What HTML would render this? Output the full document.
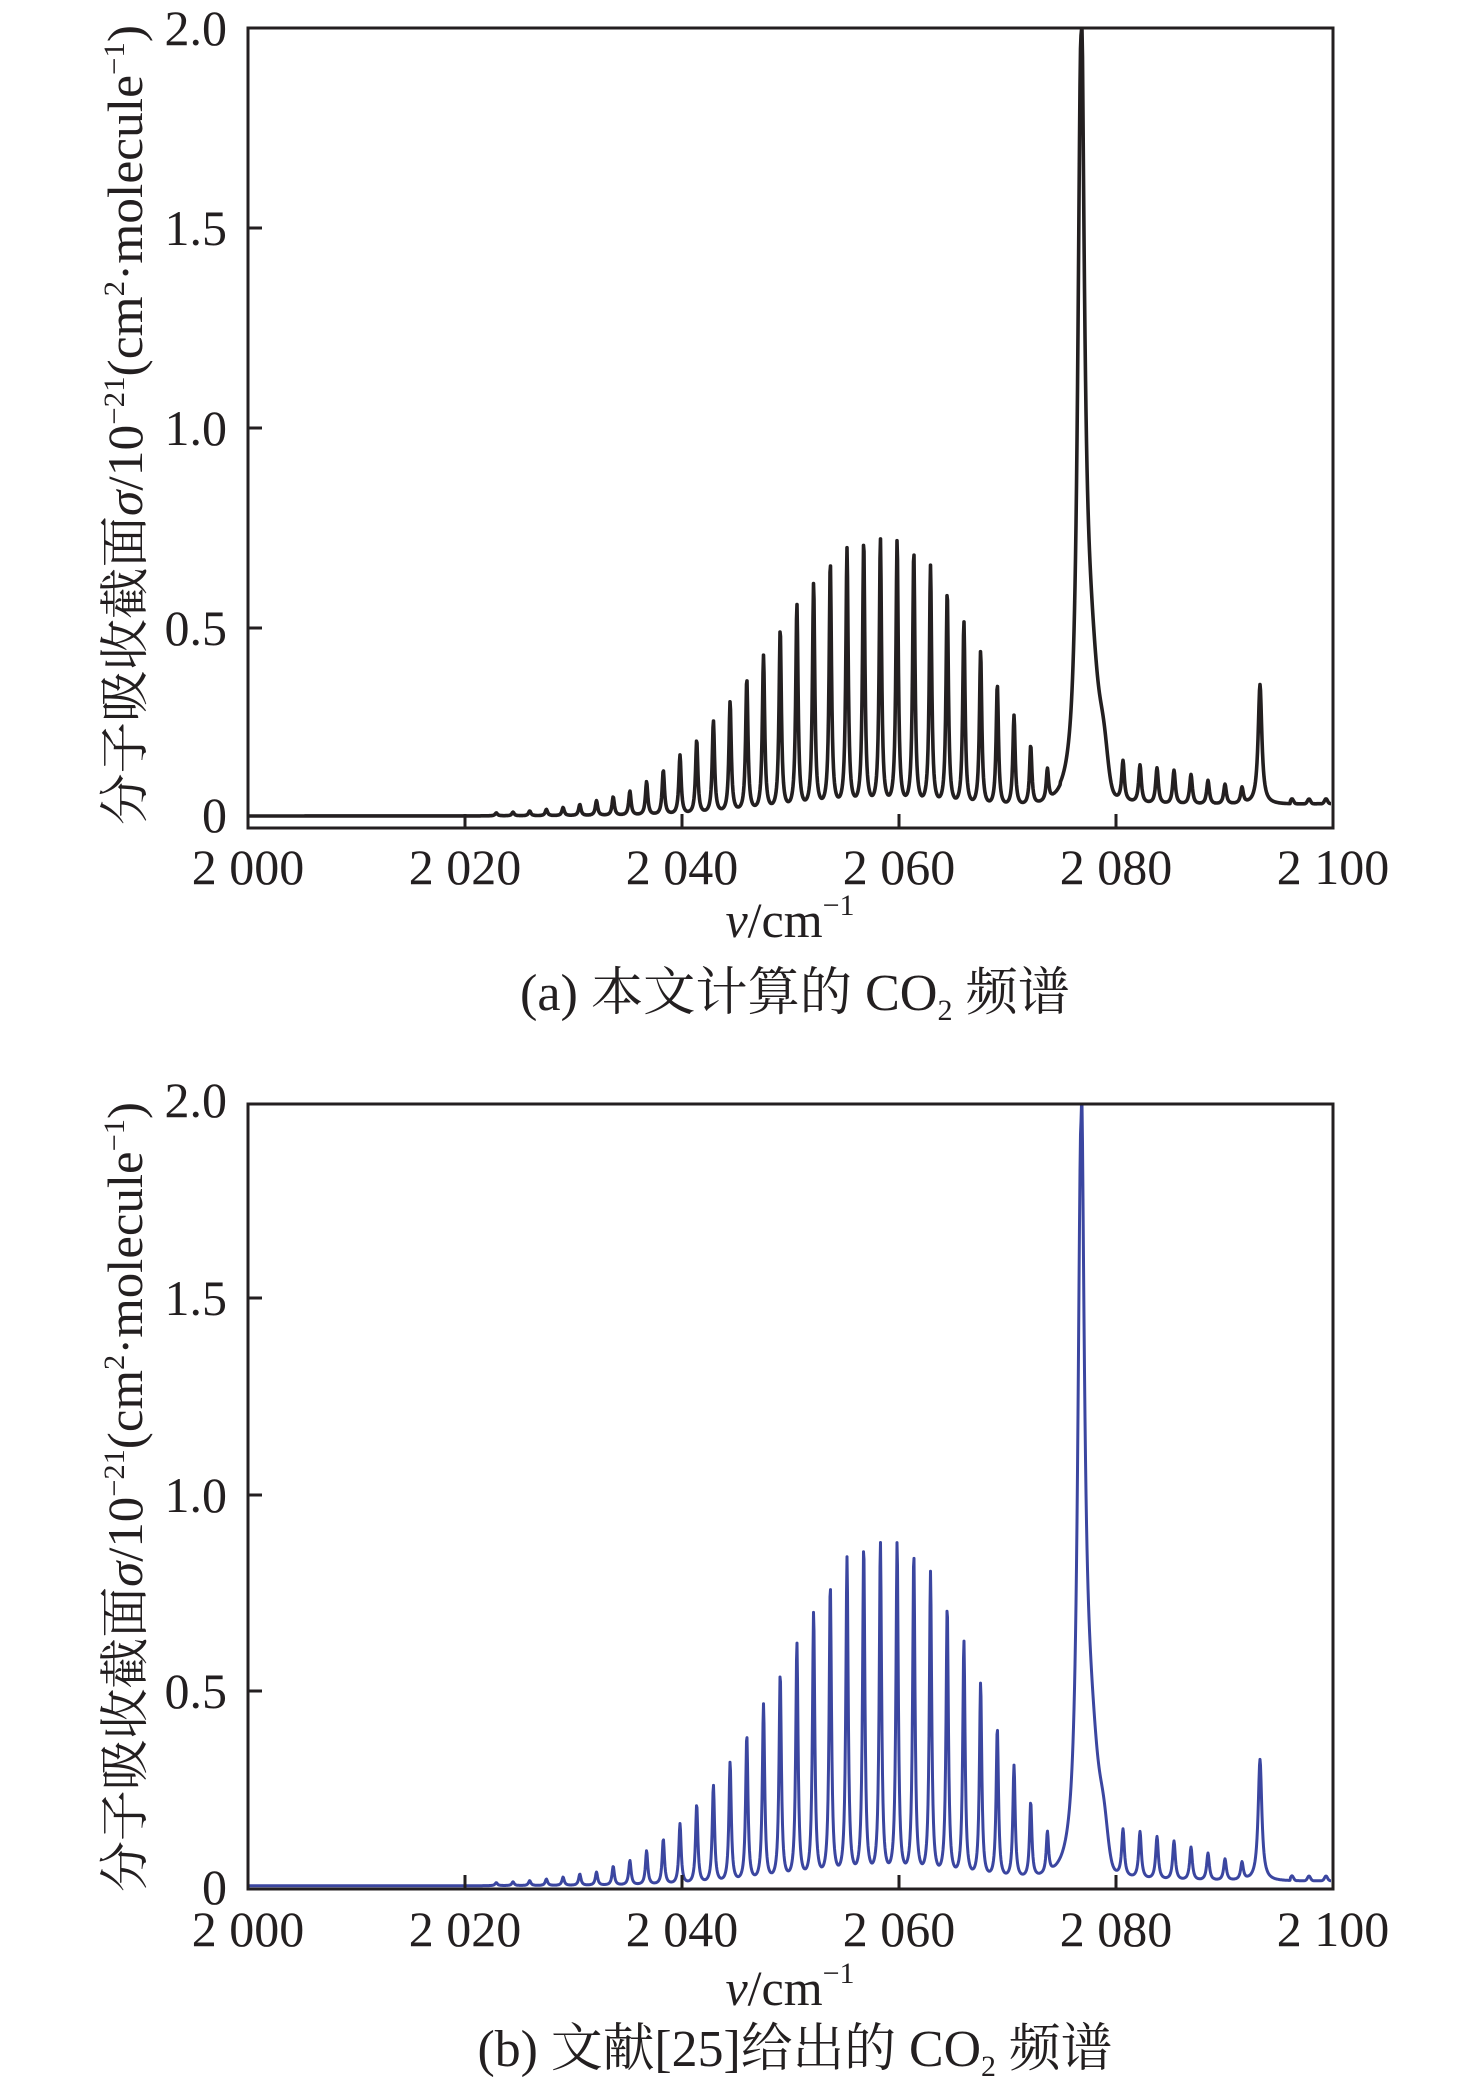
<!DOCTYPE html>
<html><head><meta charset="utf-8">
<style>
html,body{margin:0;padding:0;background:#fff;}
svg{display:block;}
text{font-family:"Liberation Serif","Noto Serif CJK SC","Noto Sans CJK SC",serif;fill:#231f20;}
</style></head>
<body>
<svg id="s" width="1476" height="2098" viewBox="0 0 1476 2098" xmlns="http://www.w3.org/2000/svg">
<g id="pa"></g><g id="pb"></g>
<rect x="248" y="28" width="1085" height="800" fill="none" stroke="#231f20" stroke-width="3"/>
<g stroke="#231f20" stroke-width="3">
<line x1="248" y1="628" x2="262" y2="628"/><line x1="248" y1="428" x2="262" y2="428"/><line x1="248" y1="228" x2="262" y2="228"/>
<line x1="465" y1="828" x2="465" y2="814"/><line x1="682" y1="828" x2="682" y2="814"/><line x1="899" y1="828" x2="899" y2="814"/><line x1="1116" y1="828" x2="1116" y2="814"/>
</g>
<g font-size="50" text-anchor="end">
<text x="227" y="45">2.0</text><text x="227" y="245">1.5</text><text x="227" y="445">1.0</text><text x="227" y="645">0.5</text><text x="227" y="832">0</text>
</g>
<g font-size="50" text-anchor="middle">
<text x="248" y="884">2 000</text><text x="465" y="884">2 020</text><text x="682" y="884">2 040</text><text x="899" y="884">2 060</text><text x="1116" y="884">2 080</text><text x="1333" y="884">2 100</text>
</g>
<text x="790" y="937" font-size="50" text-anchor="middle"><tspan font-style="italic">v</tspan>/cm<tspan font-size="30" dy="-22">−1</tspan></text>
<text x="795" y="1010" font-size="52" text-anchor="middle" textLength="550" lengthAdjust="spacingAndGlyphs">(a) 本文计算的 CO<tspan font-size="30" dy="10">2</tspan><tspan dy="-10"> 频谱</tspan></text>
<text transform="translate(142,425) rotate(-90)" font-size="50" text-anchor="middle" textLength="800" lengthAdjust="spacingAndGlyphs">分子吸收截面<tspan font-style="italic">σ</tspan>/10<tspan font-size="30" dy="-18">−21</tspan><tspan dy="18">(cm</tspan><tspan font-size="30" dy="-18">2</tspan><tspan dy="18">·molecule</tspan><tspan font-size="30" dy="-18">−1</tspan><tspan dy="18">)</tspan></text>

<rect x="248" y="1104" width="1085" height="785" fill="none" stroke="#231f20" stroke-width="3"/>
<g stroke="#231f20" stroke-width="3">
<line x1="248" y1="1691" x2="262" y2="1691"/><line x1="248" y1="1495" x2="262" y2="1495"/><line x1="248" y1="1298" x2="262" y2="1298"/>
<line x1="465" y1="1889" x2="465" y2="1875"/><line x1="682" y1="1889" x2="682" y2="1875"/><line x1="899" y1="1889" x2="899" y2="1875"/><line x1="1116" y1="1889" x2="1116" y2="1875"/>
</g>
<g font-size="50" text-anchor="end">
<text x="227" y="1117">2.0</text><text x="227" y="1315">1.5</text><text x="227" y="1512">1.0</text><text x="227" y="1708">0.5</text><text x="227" y="1904">0</text>
</g>
<g font-size="50" text-anchor="middle">
<text x="248" y="1946">2 000</text><text x="465" y="1946">2 020</text><text x="682" y="1946">2 040</text><text x="899" y="1946">2 060</text><text x="1116" y="1946">2 080</text><text x="1333" y="1946">2 100</text>
</g>
<text x="790" y="2005" font-size="50" text-anchor="middle"><tspan font-style="italic">v</tspan>/cm<tspan font-size="30" dy="-22">−1</tspan></text>
<text x="795" y="2066" font-size="52" text-anchor="middle" textLength="635" lengthAdjust="spacingAndGlyphs">(b) 文献[25]给出的 CO<tspan font-size="30" dy="10">2</tspan><tspan dy="-10"> 频谱</tspan></text>
<text transform="translate(142,1497) rotate(-90)" font-size="50" text-anchor="middle" textLength="790" lengthAdjust="spacingAndGlyphs">分子吸收截面<tspan font-style="italic">σ</tspan>/10<tspan font-size="30" dy="-18">−21</tspan><tspan dy="18">(cm</tspan><tspan font-size="30" dy="-18">2</tspan><tspan dy="18">·molecule</tspan><tspan font-size="30" dy="-18">−1</tspan><tspan dy="18">)</tspan></text>
</svg>
<script>
(function(){
function dx(d){return 248+(d-186)*1.3414;}
var dpos=[];for(var j=-22;j<=11;j++)dpos.push(645+12.45*j);
var ha=[0.003,0.004,0.005,0.006,0.008,0.01,0.013,0.017,0.022,0.03,0.04,0.05,0.065,0.09,0.12,0.16,0.20,0.25,0.30,0.36,0.42,0.49,0.555,0.61,0.665,0.70,0.72,0.725,0.72,0.69,0.65,0.58,0.50,0.42,0.33,0.245,0.16,0.085];
var hb=[0.003,0.004,0.005,0.006,0.008,0.01,0.013,0.017,0.022,0.03,0.035,0.05,0.065,0.09,0.12,0.16,0.21,0.26,0.32,0.39,0.47,0.55,0.63,0.71,0.78,0.85,0.88,0.89,0.89,0.86,0.81,0.72,0.63,0.52,0.40,0.30,0.20,0.11];
ha=ha.slice(ha.length-dpos.length).map(function(h){return h*0.93;});
hb=hb.slice(hb.length-dpos.length).map(function(h){return h*0.965;});
var rpos=[1123,1140,1157,1174,1191,1208,1225,1242];
var ra=[0.10,0.095,0.09,0.085,0.075,0.06,0.05,0.04];
var rb=[0.12,0.12,0.11,0.10,0.085,0.07,0.055,0.045];
function L(x,c,g){var d=x-c;return g*g/(d*d+g*g);}
function G(x,c,s){var d=(x-c)/s;return Math.exp(-0.5*d*d);}
function spec(x,H,R,base,main,side){
 var v=base(x);
 for(var i=0;i<dpos.length;i++)v+=H[i]*L(x,dx(dpos[i]),1.4);
 for(var i=0;i<R.length;i++)v+=R[i]*L(x,rpos[i],1.6);
 v+=main*L(x,1081,3.8);
 if(x>1081)v+=0.32*G(x,1090,8)+0.09*G(x,1104,4);
 v+=side*L(x,1260,2.2);
 if(x>1290)v+=0.012*(G(x,1292,1.5)+G(x,1309,1.5)+G(x,1326,1.5));
 return v;
}
function build(H,R,y0,sc,base,main,side,col,w,id){
 var p='';
 for(var x=249;x<=1331;x+=0.5){
  var v=spec(x,H,R,base,main,side);
  var y=y0-sc*v; if(y<y0-sc*2.0+2)y=y0-sc*2.0+2;
  p+=(p?'L':'M')+x.toFixed(1)+' '+y.toFixed(1);
 }
 var path=document.createElementNS('http://www.w3.org/2000/svg','path');
 path.setAttribute('d',p);path.setAttribute('fill','none');
 path.setAttribute('stroke',col);path.setAttribute('stroke-width',w);
 path.setAttribute('stroke-linejoin','round');
 document.getElementById(id).appendChild(path);
}
build(ha,ra,828,400,function(x){return 0.03+0.025*Math.max(0,(x-700)/630)+(x>1060?0.005:0);},1.93,0.30,'#231f20',3.6,'pa');
build(hb,rb,1887,392.5,function(x){return 0.003+0.012*Math.max(0,(x-800)/530);},1.94,0.31,'#3b46a0',3,'pb');
})();
</script>
</body></html>
